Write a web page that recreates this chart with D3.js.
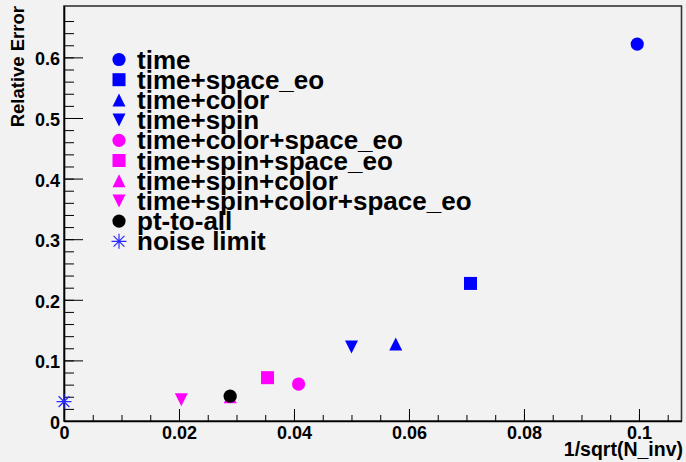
<!DOCTYPE html>
<html>
<head>
<meta charset="utf-8">
<script src="https://cdn.jsdelivr.net/npm/d3@7"></script>
<style>
  body { margin: 0; background: #f2f2f2; }
  text { font-family: "Liberation Sans", Arial, sans-serif; font-weight: bold; }
</style>
</head>
<body>
<div id="chart"></div>
<script>
// data
var seriesNames = ["time", "time+space_eo", "time+color", "time+spin",
                   "time+color+space_eo", "time+spin+space_eo", "time+spin+color",
                   "time+spin+color+space_eo", "pt-to-all", "noise limit"];
var xValues = [0.0997, 0.0707, 0.0577, 0.05, 0.0408, 0.0354, 0.0289, 0.0204, 0.0289, 0];
var yValues = [0.622, 0.227, 0.127, 0.122, 0.061, 0.0715, 0.040, 0.035, 0.041, 0.032];
var xTicks = [0, 0.02, 0.04, 0.06, 0.08, 0.1];
var yTicks = [0, 0.1, 0.2, 0.3, 0.4, 0.5, 0.6];

// marker style per series
var markerColor = ["#0000ff", "#0000ff", "#0000ff", "#0000ff",
                   "#ff00ff", "#ff00ff", "#ff00ff", "#ff00ff", "#000000", "#2a2aff"];
var markerShape = ["circle", "square", "up", "down", "circle", "square", "up", "down", "circle", "star"];

var param = {
    width : 686,
    height : 462,
    left : 64,
    right : 681.5,
    top : 6,
    bottom : 421
};

var x = d3.scaleLinear().domain([0, 0.1074]).range([param.left, param.right]);
var y = d3.scaleLinear().domain([0, 0.6848]).range([param.bottom, param.top]);

// marker shapes
var triUp = {draw : function(ctx, size) {
    var h = Math.sqrt(size);
    ctx.moveTo(0, -h/2); ctx.lineTo(h/2, h/2); ctx.lineTo(-h/2, h/2); ctx.closePath();
}};
var triDown = {draw : function(ctx, size) {
    var h = Math.sqrt(size);
    ctx.moveTo(0, h/2); ctx.lineTo(h/2, -h/2); ctx.lineTo(-h/2, -h/2); ctx.closePath();
}};
var star = {draw : function(ctx, size) {
    var r = Math.sqrt(size)/2, d = r*0.72;
    ctx.moveTo(-r, 0); ctx.lineTo(r, 0);
    ctx.moveTo(0, -r); ctx.lineTo(0, r);
    ctx.moveTo(-d, -d); ctx.lineTo(d, d);
    ctx.moveTo(-d, d); ctx.lineTo(d, -d);
}};

function symbolFor(shape) {
    if (shape == "circle") return d3.symbol().type(d3.symbolCircle).size(Math.PI*6.6*6.6)();
    if (shape == "square") return d3.symbol().type(d3.symbolSquare).size(13*13)();
    if (shape == "up") return d3.symbol().type(triUp).size(13*13)();
    if (shape == "down") return d3.symbol().type(triDown).size(13*13)();
    return d3.symbol().type(star).size(15*15)();
}

function drawMarker(sel, i) {
    sel.append("path")
       .attr("d", symbolFor(markerShape[i]))
       .style("fill", markerShape[i] == "star" ? "none" : markerColor[i])
       .style("stroke", markerShape[i] == "star" ? markerColor[i] : "none")
       .style("stroke-width", 1.2);
}

var svg = d3.select("#chart")
            .append("svg")
            .attr("width", param.width)
            .attr("height", param.height);

svg.append("rect")
   .attr("width", param.width)
   .attr("height", param.height)
   .style("fill", "#f2f2f2");

// frame
svg.append("rect")
   .attr("x", param.left)
   .attr("y", param.top)
   .attr("width", param.right - param.left)
   .attr("height", param.bottom - param.top)
   .style("fill", "none")
   .style("stroke", "#333")
   .style("stroke-width", 1.6);

// minor ticks
var yMinor = d3.range(0, 34).map(function(k) {return k*0.02});
var xMinor = d3.range(0, 22).map(function(k) {return k*0.005});

svg.append("g")
   .attr("transform", "translate(" + param.left + ",0)")
   .call(d3.axisLeft(y).tickValues(yMinor).tickSizeInner(-10).tickSizeOuter(0).tickFormat(""))
   .call(function(g) {g.select(".domain").remove()});

svg.append("g")
   .attr("transform", "translate(0," + param.bottom + ")")
   .call(d3.axisBottom(x).tickValues(xMinor).tickSizeInner(-6).tickSizeOuter(0).tickFormat(""))
   .call(function(g) {g.select(".domain").remove()});

// major ticks + labels
var yAxis = svg.append("g")
   .attr("transform", "translate(" + param.left + ",0)")
   .call(d3.axisLeft(y).tickValues(yTicks).tickSizeInner(-19).tickSizeOuter(0).tickPadding(4)
           .tickFormat(function(d) {return d == 0 ? "0" : d3.format(".1f")(d)}));
yAxis.selectAll("text")
     .attr("dy", "0.42em")
     .style("font-size", "18px")
     .style("font-family", "'Liberation Sans', Arial, sans-serif")
     .style("font-weight", "bold")
     .style("fill", "black");

var xAxis = svg.append("g")
   .attr("transform", "translate(0," + param.bottom + ")")
   .call(d3.axisBottom(x).tickValues(xTicks).tickSizeInner(-12).tickSizeOuter(0).tickPadding(5)
           .tickFormat(function(d) {return d == 0 ? "0" : d3.format(".2~f")(d)}));
xAxis.selectAll("text")
     .style("font-size", "18px")
     .style("font-family", "'Liberation Sans', Arial, sans-serif")
     .style("font-weight", "bold")
     .style("fill", "black");

svg.selectAll(".tick line").style("stroke", "black");
svg.selectAll(".domain").style("stroke", "black").style("stroke-width", 1.6);

// axis titles
svg.append("text")
   .attr("transform", "translate(24," + param.top + ") rotate(-90)")
   .style("text-anchor", "end")
   .style("font-size", "18.5px")
   .text("Relative Error");

svg.append("text")
   .attr("x", 683)
   .attr("y", 456)
   .style("text-anchor", "end")
   .style("font-size", "19.5px")
   .text("1/sqrt(N_inv)");

// points
seriesNames.forEach(function(name, i) {
    var g = svg.append("g")
               .attr("class", "point")
               .attr("transform", "translate(" + x(xValues[i]) + "," + y(yValues[i]) + ")");
    drawMarker(g, i);
});

// legend
var legend = svg.append("g").attr("class", "legend");
seriesNames.forEach(function(name, i) {
    var cy = 59.5 + i*20.2;
    var g = legend.append("g").attr("transform", "translate(119," + cy + ")");
    drawMarker(g, i);
    legend.append("text")
          .attr("x", 137)
          .attr("y", cy + 9)
          .style("font-size", "26px")
          .style("fill", "black")
          .text(name);
});
</script>
</body>
</html>
